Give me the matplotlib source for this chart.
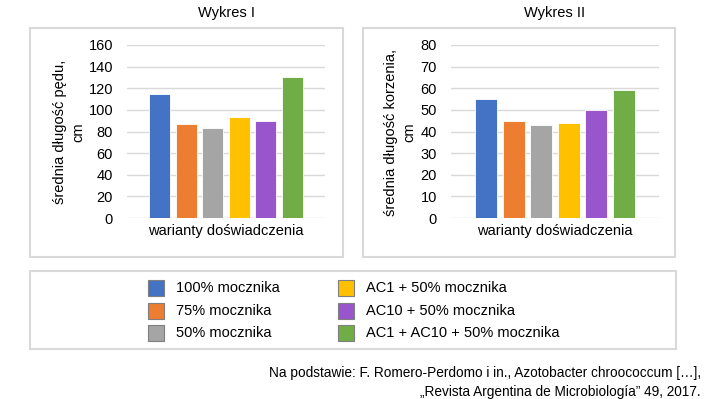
import matplotlib
matplotlib.use("Agg")
import matplotlib.pyplot as plt
from matplotlib.patches import Rectangle

plt.rcParams['font.family'] = ['Liberation Sans', 'DejaVu Sans']

variants = ["100% mocznika", "75% mocznika", "50% mocznika",
            "AC1 + 50% mocznika", "AC10 + 50% mocznika", "AC1 + AC10 + 50% mocznika"]
colors = ["#4472C4", "#ED7D31", "#A5A5A5", "#FFC000", "#9955CC", "#70AD47"]
shoot = [115, 87, 83, 93, 90, 130]
root = [55, 45, 43, 44, 50, 59]
ticks_1 = [0, 20, 40, 60, 80, 100, 120, 140, 160]
ticks_2 = [0, 10, 20, 30, 40, 50, 60, 70, 80]

W, H = 706, 399
fig = plt.figure(figsize=(W / 100, H / 100), dpi=100)


def px_rect(x0, y0, x1, y1):
    # pixel box (top-left origin) -> figure fraction
    return [x0 / W, 1 - y1 / H, (x1 - x0) / W, (y1 - y0) / H]


def box(x0, y0, x1, y1):
    l, b, w, h = px_rect(x0, y0, x1, y1)
    fig.add_artist(Rectangle((l, b), w, h, transform=fig.transFigure,
                             fill=False, edgecolor="#d9d9d9", linewidth=1.5))


def panel(rect, values, ticks, xlim, ylabel, ylabel_x, title, title_x):
    ax = fig.add_axes(rect)
    ax.bar(range(len(values)), values, width=0.79, color=colors,
           edgecolor="white", linewidth=0.6, zorder=3)
    ax.set_xlim(*xlim)
    ax.set_ylim(0, ticks[-1])
    ax.set_yticks(ticks)
    ax.set_xticks([])
    ax.grid(axis="y", color="#d9d9d9", linewidth=1.0, zorder=0)
    for s in ax.spines.values():
        s.set_visible(False)
    ax.tick_params(axis="y", length=0, pad=10, labelsize=10.5)
    ax.set_xlabel("warianty doświadczenia", fontsize=10.5, labelpad=4)
    fig.text(ylabel_x / W, 1 - 132 / H, ylabel, rotation=90, ha="center",
             va="center", fontsize=10.5, linespacing=1.35)
    fig.text(title_x / W, 1 - 13 / H, title, ha="center", va="center", fontsize=10.5)
    return ax


box(30, 28, 343, 257)
box(363, 28, 675, 257)
panel(px_rect(127, 45, 325, 218), shoot, ticks_1, (-1.22, 6.22),
      "średnia długość pędu,\ncm", 69, "Wykres I", 226)
panel(px_rect(451, 45, 659, 218), root, ticks_2, (-1.27, 6.27),
      "średnia długość korzenia,\ncm", 400, "Wykres II", 555)

# legend
box(30, 271, 676, 349)
rows_y = [288, 311, 333]
cols_x = [148, 338]
for i, (lab, c) in enumerate(zip(variants, colors)):
    x = cols_x[i // 3]
    y = rows_y[i % 3]
    l, b, w, h = px_rect(x, y - 8, x + 16, y + 8)
    fig.add_artist(Rectangle((l, b), w, h, transform=fig.transFigure,
                             facecolor=c, edgecolor="#7f7f7f", linewidth=0.8))
    fig.text((x + 28) / W, 1 - y / H, lab, ha="left", va="center", fontsize=10.5)

fig.text(701 / W, 1 - 373 / H,
         "Na podstawie: F. Romero-Perdomo i in., Azotobacter chroococcum […],",
         ha="right", va="center", fontsize=9.8)
fig.text(701 / W, 1 - 392 / H,
         "„Revista Argentina de Microbiología” 49, 2017.",
         ha="right", va="center", fontsize=9.8)

fig.savefig("out.png", dpi=100)
